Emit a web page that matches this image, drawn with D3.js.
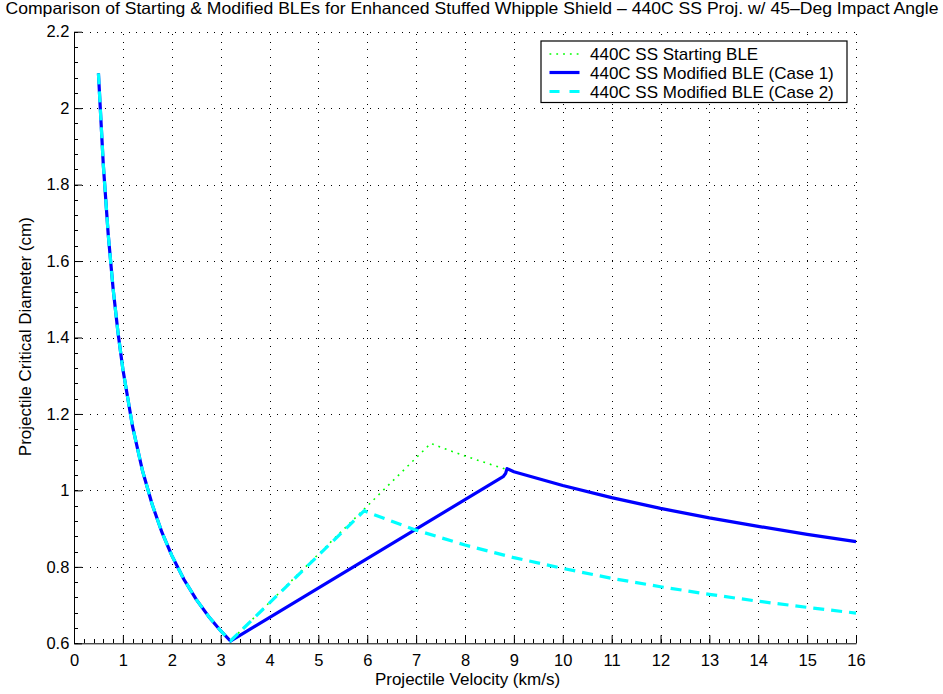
<!DOCTYPE html>
<html>
<head>
<meta charset="utf-8">
<script src="https://cdn.jsdelivr.net/npm/d3@7"></script>
<style>
  html, body { margin: 0; padding: 0; background: #fff; }
  svg { display: block; font-family: "Liberation Sans", Arial, Helvetica, sans-serif; }
</style>
</head>
<body>
<svg id="chart" width="943" height="694"></svg>
<script>
// Ballistic limit curves: projectile velocity (km/s) vs critical diameter (cm)
const startingVel = [0.5, 0.6, 0.7, 0.8, 0.9, 1.0, 1.2, 1.4, 1.6, 1.8, 2.0, 2.25, 2.5, 2.75, 3.0, 3.2,
                     7.3, 7.5, 8.0, 8.5, 9.0, 10, 11, 12, 13, 14, 15, 16];
const startingDiam = [2.091, 1.851, 1.670, 1.528, 1.413, 1.317, 1.166, 1.052, 0.963, 0.890, 0.830, 0.767, 0.715, 0.671, 0.633, 0.606,
                      1.123, 1.113, 1.090, 1.069, 1.049, 1.013, 0.981, 0.953, 0.928, 0.906, 0.885, 0.866];

const case1Vel = [0.5, 0.6, 0.7, 0.8, 0.9, 1.0, 1.2, 1.4, 1.6, 1.8, 2.0, 2.25, 2.5, 2.75, 3.0, 3.2,
                  8.78, 8.83, 8.86, 9.0, 10, 11, 12, 13, 14, 15, 16];
const case1Diam = [2.091, 1.851, 1.670, 1.528, 1.413, 1.317, 1.166, 1.052, 0.963, 0.890, 0.830, 0.767, 0.715, 0.671, 0.633, 0.606,
                   1.036, 1.044, 1.057, 1.049, 1.013, 0.981, 0.953, 0.928, 0.906, 0.885, 0.866];

const case2Vel = [0.5, 0.6, 0.7, 0.8, 0.9, 1.0, 1.2, 1.4, 1.6, 1.8, 2.0, 2.25, 2.5, 2.75, 3.0, 3.2,
                  5.94, 6, 7, 8, 9, 10, 11, 12, 13, 14, 15, 16];
const case2Diam = [2.091, 1.851, 1.670, 1.528, 1.413, 1.317, 1.166, 1.052, 0.963, 0.890, 0.830, 0.767, 0.715, 0.671, 0.633, 0.606,
                   0.947, 0.943, 0.896, 0.857, 0.824, 0.796, 0.770, 0.748, 0.728, 0.710, 0.694, 0.679];

const seriesNames = ["440C SS Starting BLE", "440C SS Modified BLE (Case 1)", "440C SS Modified BLE (Case 2)"];
const xTickValues = [0, 1, 2, 3, 4, 5, 6, 7, 8, 9, 10, 11, 12, 13, 14, 15, 16];
const yTickValues = [0.6, 0.8, 1.0, 1.2, 1.4, 1.6, 1.8, 2.0, 2.2];

const titleText = "Comparison of Starting & Modified BLEs for Enhanced Stuffed Whipple Shield \u2013 440C SS Proj. w/ 45\u2013Deg Impact Angle";
const xLabel = "Projectile Velocity (km/s)";
const yLabel = "Projectile Critical Diameter (cm)";

const svg = d3.select("#chart");
const plotLeft = 74, plotRight = 856, plotTop = 31.7, plotBottom = 643.3;
const x = d3.scaleLinear().domain([0, 16]).range([plotLeft, plotRight]);
const y = d3.scaleLinear().domain([0.6, 2.2]).range([plotBottom, plotTop]);

// dotted grid
const grid = svg.append("g").attr("stroke", "#000").attr("stroke-width", 1)
  .attr("stroke-dasharray", "1,6.8").attr("shape-rendering", "crispEdges");
xTickValues.slice(1).forEach(v => {
  grid.append("line").attr("x1", Math.round(x(v)) + 0.5).attr("x2", Math.round(x(v)) + 0.5)
    .attr("y1", plotBottom).attr("y2", plotTop);
});
yTickValues.slice(1).forEach(v => {
  grid.append("line").attr("y1", Math.round(y(v)) + 0.5).attr("y2", Math.round(y(v)) + 0.5)
    .attr("x1", plotLeft).attr("x2", plotRight);
});

// minor ticks
const minor = svg.append("g").attr("stroke", "#000").attr("stroke-width", 1).attr("shape-rendering", "crispEdges");
d3.range(0, 16.001, 0.2).forEach(v => {
  const px = Math.round(x(v)) + 0.5;
  minor.append("line").attr("x1", px).attr("x2", px).attr("y1", plotBottom).attr("y2", plotBottom - 4);
});
d3.range(0.6, 2.2001, 0.04).forEach(v => {
  const py = Math.round(y(v)) + 0.5;
  minor.append("line").attr("x1", plotLeft).attr("x2", plotLeft + 4).attr("y1", py).attr("y2", py);
});

// axes (ticks point inward)
const xAxis = d3.axisBottom(x).tickValues(xTickValues).tickFormat(d => String(d))
  .tickSizeInner(-8).tickSizeOuter(0).tickPadding(10.7);
const yAxis = d3.axisLeft(y).tickValues(yTickValues).tickFormat(d => String(+d.toFixed(1)))
  .tickSizeInner(-8).tickSizeOuter(0).tickPadding(4.7);

const gx = svg.append("g").attr("transform", `translate(0,${plotBottom})`).call(xAxis);
const gy = svg.append("g").attr("transform", `translate(${plotLeft},0)`).call(yAxis);
[gx, gy].forEach(g => {
  g.selectAll("text").attr("font-size", 16.5).attr("fill", "#000")
    .attr("font-family", '"Liberation Sans", Arial, sans-serif');
  g.selectAll("line").attr("stroke", "#000");
  g.select(".domain").attr("stroke", "#000");
});

// curves
const line = d3.line().x(d => x(d[0])).y(d => y(d[1]));
const pts = (vs, ds) => vs.map((v, i) => [v, ds[i]]);
const styles = [
  { data: pts(startingVel, startingDiam), color: "#00ff00", width: 1.6, dash: "1.8,5" },
  { data: pts(case1Vel, case1Diam), color: "#0000ff", width: 3.2, dash: null },
  { data: pts(case2Vel, case2Diam), color: "#00ffff", width: 3.2, dash: "11,7" }
];
styles.forEach(s => {
  svg.append("path").datum(s.data).attr("d", line).attr("fill", "none")
    .attr("stroke", s.color).attr("stroke-width", s.width)
    .attr("stroke-dasharray", s.dash).attr("stroke-linejoin", "round");
});

// legend
const lg = svg.append("g");
lg.append("rect").attr("x", 541).attr("y", 41).attr("width", 306).attr("height", 61.5)
  .attr("fill", "#fff").attr("stroke", "#000").attr("stroke-width", 1.2);
const rowY = [54, 72.5, 91.5];
styles.forEach((s, i) => {
  lg.append("line").attr("x1", 549.5).attr("x2", 579.5).attr("y1", rowY[i]).attr("y2", rowY[i])
    .attr("stroke", s.color).attr("stroke-width", s.width).attr("stroke-dasharray", s.dash ? (i === 0 ? "1.8,5" : "10,10") : null);
  lg.append("text").attr("x", 590).attr("y", rowY[i] + 6).attr("font-size", 17).text(seriesNames[i]);
});

// titles
svg.append("text").attr("x", 472).attr("y", 14).attr("text-anchor", "middle")
  .attr("font-size", 16.5).attr("textLength", 933).attr("lengthAdjust", "spacingAndGlyphs").text(titleText);
svg.append("text").attr("x", 467.5).attr("y", 685).attr("text-anchor", "middle")
  .attr("font-size", 17).text(xLabel);
svg.append("text").attr("transform", `translate(31,336.7) rotate(-90)`).attr("text-anchor", "middle")
  .attr("font-size", 17).text(yLabel);
</script>
</body>
</html>
